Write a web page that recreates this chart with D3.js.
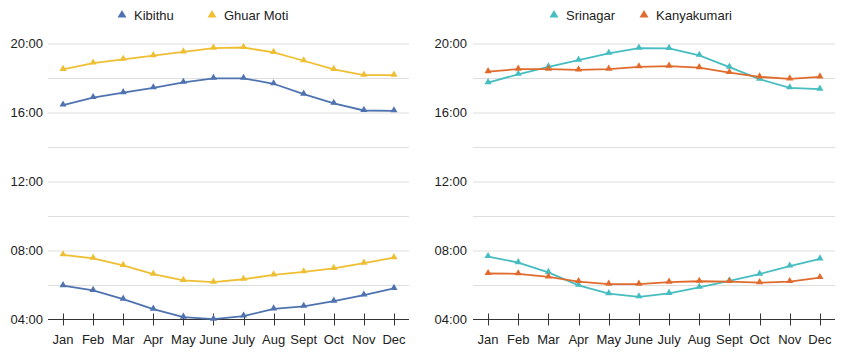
<!DOCTYPE html>
<html>
<head>
<meta charset="utf-8">
<script src="https://cdn.jsdelivr.net/npm/d3@7"></script>
<style>
  body { margin: 0; background: #fff; }
  svg text { font-family: "Liberation Sans", Arial, Helvetica, sans-serif; fill: #222; }
</style>
</head>
<body>
<svg id="chart" width="843" height="361"></svg>
<script>
var months = ["Jan", "Feb", "Mar", "Apr", "May", "June", "July", "Aug", "Sept", "Oct", "Nov", "Dec"];
var hourTicks = [4, 8, 12, 16, 20];
var gridHours = [6, 8, 10, 12, 14, 16, 18, 20];

// sunrise / sunset per month
var kibithuRise = ["05:58", "05:41", "05:11", "04:36", "04:08", "04:01", "04:12", "04:37", "04:46", "05:04", "05:25", "05:48"];
var kibithuSet = ["16:26", "16:52", "17:09", "17:26", "17:45", "17:59", "17:59", "17:40", "17:04", "16:32", "16:07", "16:06"];
var ghuarRise = ["07:45", "07:33", "07:08", "06:38", "06:16", "06:10", "06:20", "06:35", "06:46", "06:58", "07:16", "07:35"];
var ghuarSet = ["18:30", "18:52", "19:05", "19:18", "19:31", "19:44", "19:46", "19:29", "19:00", "18:30", "18:10", "18:10"];
var srinagarRise = ["07:39", "07:18", "06:44", "05:59", "05:30", "05:19", "05:31", "05:52", "06:14", "06:38", "07:06", "07:31"];
var srinagarSet = ["17:44", "18:13", "18:39", "19:02", "19:26", "19:44", "19:43", "19:19", "18:38", "17:56", "17:26", "17:21"];
var kanyaRise = ["06:40", "06:39", "06:28", "06:12", "06:03", "06:03", "06:10", "06:13", "06:12", "06:08", "06:12", "06:26"];
var kanyaSet = ["18:22", "18:31", "18:31", "18:28", "18:31", "18:39", "18:41", "18:36", "18:19", "18:04", "17:57", "18:04"];

var panels = [
  { x0: 48, x1: 409, labelRight: 43,
    series: [
      { name: "Kibithu", color: "#4f73b0", rise: kibithuRise, set: kibithuSet, legendX: 122 },
      { name: "Ghuar Moti", color: "#efbf33", rise: ghuarRise, set: ghuarSet, legendX: 212 }
    ] },
  { x0: 473, x1: 835, labelRight: 467,
    series: [
      { name: "Srinagar", color: "#45bdc1", rise: srinagarRise, set: srinagarSet, legendX: 554 },
      { name: "Kanyakumari", color: "#e06b2c", rise: kanyaRise, set: kanyaSet, legendX: 644 }
    ] }
];

function toHours(s) {
  var p = s.split(":");
  return +p[0] + (+p[1]) / 60;
}
function fmt(h) { return (h < 10 ? "0" : "") + h + ":00"; }

var svg = d3.select("#chart");
var y = d3.scaleLinear().domain([4, 20]).range([319.5, 43.5]);
var tri = d3.symbol().type(d3.symbolTriangle).size(22);
var triLegend = d3.symbol().type(d3.symbolTriangle).size(34);

panels.forEach(function (p) {
  var x = d3.scalePoint().domain(months).range([p.x0, p.x1]).padding(0.5);
  var g = svg.append("g");

  // gridlines
  g.selectAll("line.grid")
    .data(gridHours)
    .enter().append("line")
    .attr("class", "grid")
    .attr("x1", p.x0).attr("x2", p.x1)
    .attr("y1", function (d) { return y(d) + 0.5; })
    .attr("y2", function (d) { return y(d) + 0.5; })
    .attr("stroke", "#dedede")
    .attr("stroke-width", 1);

  // y labels
  g.selectAll("text.ylab")
    .data(hourTicks)
    .enter().append("text")
    .attr("class", "ylab")
    .attr("x", p.labelRight)
    .attr("y", function (d) { return y(d); })
    .attr("dy", "0.35em")
    .attr("text-anchor", "end")
    .style("font-size", "13px")
    .text(fmt);

  // x axis
  g.append("line")
    .attr("x1", p.x0).attr("x2", p.x1)
    .attr("y1", y(4)).attr("y2", y(4))
    .attr("stroke", "#333").attr("stroke-width", 1.2);
  g.selectAll("line.tick")
    .data(months)
    .enter().append("line")
    .attr("x1", function (d) { return Math.round(x(d)) + 0.5; })
    .attr("x2", function (d) { return Math.round(x(d)) + 0.5; })
    .attr("y1", y(4) - 6).attr("y2", y(4) + 6)
    .attr("stroke", "#333").attr("stroke-width", 1);
  g.selectAll("text.xlab")
    .data(months)
    .enter().append("text")
    .attr("x", function (d) { return x(d); })
    .attr("y", 344)
    .attr("text-anchor", "middle")
    .style("font-size", "13px")
    .text(function (d) { return d; });

  var line = d3.line()
    .x(function (d, i) { return x(months[i]); })
    .y(function (d) { return y(toHours(d)); });

  p.series.forEach(function (s) {
    [s.set, s.rise].forEach(function (vals) {
      g.append("path")
        .datum(vals)
        .attr("d", line)
        .attr("fill", "none")
        .attr("stroke", s.color)
        .attr("stroke-width", 1.8);
      g.selectAll(null)
        .data(vals)
        .enter().append("path")
        .attr("d", tri)
        .attr("transform", function (d, i) { return "translate(" + x(months[i]) + "," + (y(toHours(d)) - 0.5) + ")"; })
        .attr("fill", s.color);
    });

    // legend
    g.append("path")
      .attr("d", triLegend)
      .attr("transform", "translate(" + s.legendX + ",15)")
      .attr("fill", s.color);
    g.append("text")
      .attr("x", s.legendX + 12)
      .attr("y", 15)
      .attr("dy", "0.35em")
      .style("font-size", "13px")
      .text(s.name);
  });
});
</script>
</body>
</html>
